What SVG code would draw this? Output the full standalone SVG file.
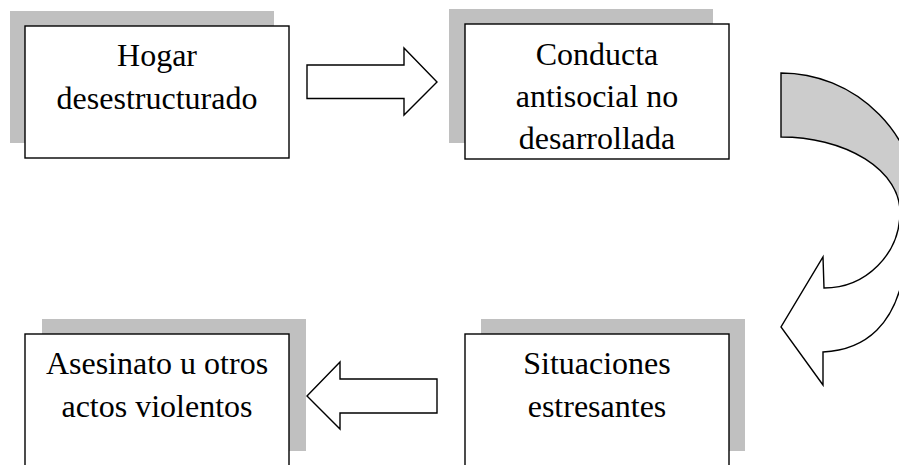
<svg xmlns="http://www.w3.org/2000/svg" width="899" height="465" viewBox="0 0 899 465">
<style>
.shadow{fill:#c0c0c0;stroke:none}
.box{fill:#ffffff;stroke:#000000;stroke-width:1.4}
.lbl{font-family:"Liberation Serif","Times New Roman",serif;font-size:32px;fill:#000000;text-anchor:middle}
.arrow{fill:#ffffff;stroke:#000000;stroke-width:1.4;stroke-linejoin:miter}
.band{fill:#cccccc;stroke:#000000;stroke-width:1.4}
</style>
<rect x="0" y="0" width="899" height="465" fill="#ffffff"/>
<g id="node-hogar">
<rect class="shadow" x="10" y="11" width="264" height="132"/>
<rect class="box" x="25" y="26" width="264" height="132"/>
<text class="lbl" x="157" y="66">Hogar</text>
<text class="lbl" x="157" y="109">desestructurado</text>
</g>
<g id="node-conducta">
<rect class="shadow" x="449" y="9" width="264" height="134"/>
<rect class="box" x="465" y="24" width="264" height="135"/>
<text class="lbl" x="597" y="65">Conducta</text>
<text class="lbl" x="597" y="107">antisocial no</text>
<text class="lbl" x="597" y="148.5">desarrollada</text>
</g>
<g id="node-situaciones">
<rect class="shadow" x="481" y="319" width="264" height="132"/>
<rect class="box" x="465" y="334" width="264" height="140"/>
<text class="lbl" x="597" y="374">Situaciones</text>
<text class="lbl" x="597" y="416.5">estresantes</text>
</g>
<g id="node-asesinato">
<rect class="shadow" x="42" y="319" width="264" height="132"/>
<rect class="box" x="25" y="334" width="264" height="140"/>
<text class="lbl" x="157" y="374">Asesinato u otros</text>
<text class="lbl" x="157" y="416.5">actos violentos</text>
</g>
<g id="connectors">
<path id="arrow-1" class="arrow" d="M307,65 L404,65 L404,48 L437,82 L404,115 L404,98.5 L307,98.5 Z"/>
<path id="arrow-curved-back" class="band" d="M781,73 A139,142 0 0 1 920,215 L930,215 L930,212 L900,212 A119,75 0 0 0 781,137 Z"/>
<path id="arrow-curved-front" class="arrow" d="M900,212 A76,76 0 0 1 824,288 L823,257 L781,327 L823,385 L823,352 C865,350 897,325 905,265 L930,265 L930,212 Z"/>
<path id="arrow-3" class="arrow" d="M437,379 L340,379 L340,362 L307,396 L340,429 L340,413 L437,413 Z"/>
</g>
</svg>
